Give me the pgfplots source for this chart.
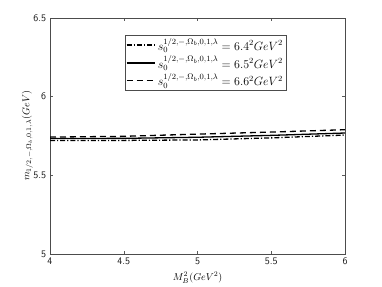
\documentclass[border=0pt]{standalone}
\usepackage{pgfplots}
\pgfplotsset{compat=1.18}
\begin{document}
\fontsize{11}{13}\selectfont
\begin{tikzpicture}
\begin{axis}[
  scale only axis,
  width=295pt, height=236pt,
  xmin=4, xmax=6, ymin=5, ymax=6.5,
  xtick={4,4.5,5,5.5,6}, ytick={5,5.5,6,6.5},
  xticklabels={4,4.5,5,5.5,6}, yticklabels={5,5.5,6,6.5},
  tick align=inside, tick pos=both,
  tick style={gray!70!black, line width=0.5pt},
  major tick length=3pt,
  axis line style={gray!60!black, line width=0.5pt},
  ticklabel style={font=\sffamily\fontsize{10}{12}\selectfont, text=gray!20!black},
  xlabel={$M_B^2(GeV^2)$},
  ylabel={$m_{1/2,-,\Omega_b,0,1,\lambda}(GeV)$},
  label style={font=\fontsize{10}{12}\selectfont},
  xlabel style={yshift=0pt},
  ylabel style={yshift=-7pt},
  legend style={at={(0.527,0.928)}, anchor=north, font=\fontsize{11.5}{13}\selectfont, draw=gray!60!black, inner sep=1pt, row sep=0pt, legend cell align=left},
  legend image code/.code={\draw[#1] (0cm,0cm) -- (1.0cm,0cm);},
]
\addplot[black, line width=1.3pt, dash pattern=on 5pt off 2pt on 1.2pt off 2pt] coordinates {(4,5.722) (4.5,5.722) (5,5.725) (5.5,5.738) (6,5.756)};
\addlegendentry{$s_0^{1/2,-,\Omega_b,0,1,\lambda}=6.4^2GeV^2$}
\addplot[black, line width=1.3pt] coordinates {(4,5.734) (4.5,5.735) (5,5.742) (5.5,5.754) (6,5.769)};
\addlegendentry{$s_0^{1/2,-,\Omega_b,0,1,\lambda}=6.5^2GeV^2$}
\addplot[black, line width=1.3pt, dash pattern=on 6pt off 4pt] coordinates {(4,5.743) (4.5,5.748) (5,5.762) (5.5,5.775) (6,5.79)};
\addlegendentry{$s_0^{1/2,-,\Omega_b,0,1,\lambda}=6.6^2GeV^2$}
\end{axis}
\path ([xshift=-50pt,yshift=-32pt]current axis.south west) rectangle ([xshift=37pt,yshift=18pt]current axis.north east);
\end{tikzpicture}
\end{document}
